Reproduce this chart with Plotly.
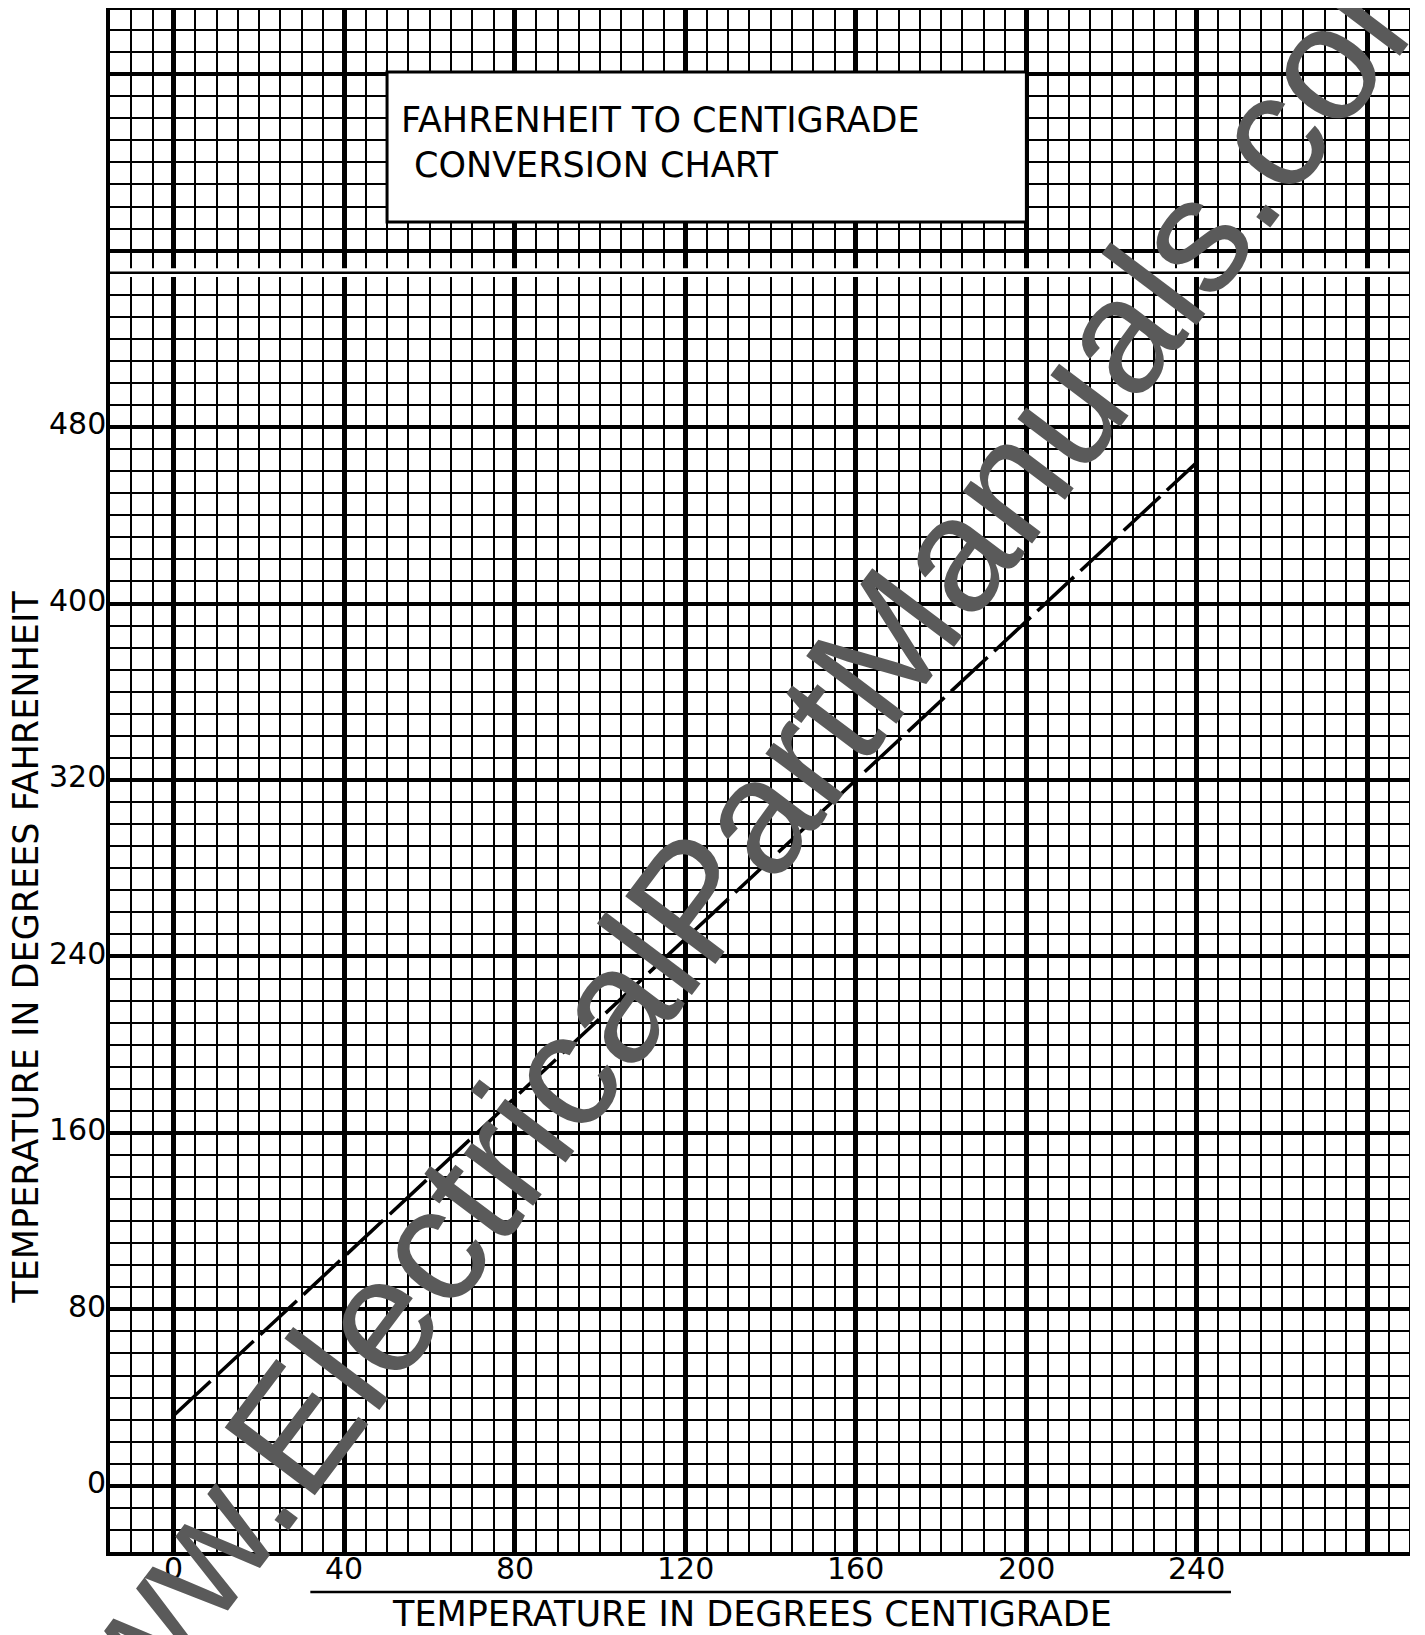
import plotly.graph_objects as go

# ---- data ----
centigrade = [0, 240]
fahrenheit = [32, 464]

x_tick_vals = [0, 40, 80, 120, 160, 200, 240]
x_tick_text = ["0", "40", "80", "120", "160", "200", "240"]
x_major_grid = [0, 40, 80, 120, 160, 200, 240, 280]
y_tick_vals = [0, 80, 160, 240, 320, 400, 480]
y_tick_text = ["0", "80", "160", "240", "320", "400", "480"]
y_major_grid = [0, 80, 160, 240, 320, 400, 480, 560, 640]

title_lines = ["FAHRENHEIT TO CENTIGRADE", "CONVERSION CHART"]
x_title = "TEMPERATURE IN DEGREES CENTIGRADE"
y_title = "TEMPERATURE IN DEGREES FAHRENHEIT"
watermark = "www.ElectricalPartManuals.com"

X_RANGE = [-15, 290]
Y_RANGE = [-30, 670]

FONT = "DejaVu Sans"
W, H = 1417, 1627
ML, MR, MT, MB = 102, 15, 0, 83
PW, PH = W - ML - MR, H - MT - MB

fig = go.Figure()
fig.add_trace(go.Scatter(
    x=centigrade, y=fahrenheit, mode="lines",
    line=dict(color="black", width=3.5, dash="50px,9px"),
    showlegend=False, hoverinfo="skip",
))

shapes = []
# break in the paper at 550 F
shapes.append(dict(type="rect", xref="x", yref="y", x0=X_RANGE[0] + 0.8, x1=X_RANGE[1],
                   y0=548, y1=552, fillcolor="white", line=dict(width=0), layer="above"))
shapes.append(dict(type="line", xref="x", yref="y", x0=X_RANGE[0], x1=X_RANGE[1],
                   y0=550, y1=550, line=dict(color="black", width=2.5), layer="above"))
# title box
shapes.append(dict(type="rect", xref="x", yref="y", x0=50, x1=200, y0=573, y1=641,
                   fillcolor="white", line=dict(color="black", width=3), layer="above"))
# plot border (top, right)
shapes.append(dict(type="line", xref="x", yref="y", x0=X_RANGE[0], x1=X_RANGE[1],
                   y0=Y_RANGE[1], y1=Y_RANGE[1], line=dict(color="black", width=4), layer="above"))
shapes.append(dict(type="line", xref="x", yref="y", x0=X_RANGE[1], x1=X_RANGE[1],
                   y0=Y_RANGE[0], y1=Y_RANGE[1], line=dict(color="black", width=2), layer="above"))
# rule above the x-axis title
shapes.append(dict(type="line", xref="x", yref="paper", x0=32, x1=248, y0=-0.0259, y1=-0.0259,
                   line=dict(color="black", width=2.5)))

annotations = [
    dict(text=title_lines[0], xref="x", yref="y", x=52.8, y=619.2, xanchor="left", yanchor="middle",
         showarrow=False, font=dict(family=FONT, size=35, color="black")),
    dict(text=title_lines[1], xref="x", yref="y", x=55.9, y=598.8, xanchor="left", yanchor="middle",
         showarrow=False, font=dict(family=FONT, size=35, color="black")),
    dict(text=x_title, xref="x", yref="paper", x=135.6, y=-0.0402, xanchor="center", yanchor="middle",
         showarrow=False, font=dict(family=FONT, size=35, color="black")),
    dict(text=y_title, xref="paper", yref="y", x=(18 - ML) / PW, y=244, xanchor="center",
         yanchor="middle", textangle=-90, showarrow=False,
         font=dict(family=FONT, size=35, color="black")),
]
for v, t in zip(x_tick_vals, x_tick_text):
    annotations.append(dict(text=t, xref="x", yref="paper", x=v, y=-0.011, xanchor="center",
                            yanchor="middle", showarrow=False,
                            font=dict(family=FONT, size=30, color="black")))
for v, t in zip(y_tick_vals, y_tick_text):
    annotations.append(dict(text=t, xref="paper", yref="y", x=-2 / PW, y=v + 1.5, xanchor="right",
                            yanchor="middle", showarrow=False,
                            font=dict(family=FONT, size=30, color="black")))
annotations.append(dict(text=watermark, xref="paper", yref="paper", x=(720 - ML) / PW,
                        y=(PH - 846) / PH, xanchor="center", yanchor="middle", textangle=-53,
                        showarrow=False,
                        font=dict(family="Liberation Sans, Arial", size=164, color="rgb(90,90,90)")))

fig.update_layout(
    width=W, height=H,
    margin=dict(l=ML, r=MR, t=MT, b=MB),
    paper_bgcolor="white", plot_bgcolor="white",
    shapes=shapes, annotations=annotations,
    showlegend=False,
)
fig.update_xaxes(
    range=X_RANGE, tickmode="array", tickvals=x_major_grid, showticklabels=False,
    showgrid=True, gridcolor="black", gridwidth=4.5,
    minor=dict(tickmode="linear", tick0=0, dtick=5, showgrid=True, gridcolor="black", gridwidth=2.4),
    zeroline=False, showline=True, linecolor="black", linewidth=4, ticks="", fixedrange=True,
)
fig.update_yaxes(
    range=Y_RANGE, tickmode="array", tickvals=y_major_grid, showticklabels=False,
    showgrid=True, gridcolor="black", gridwidth=3.5,
    minor=dict(tickmode="linear", tick0=0, dtick=10, showgrid=True, gridcolor="black", gridwidth=2.4),
    zeroline=False, showline=True, linecolor="black", linewidth=4, ticks="", fixedrange=True,
)

fig.write_html("out.html")
